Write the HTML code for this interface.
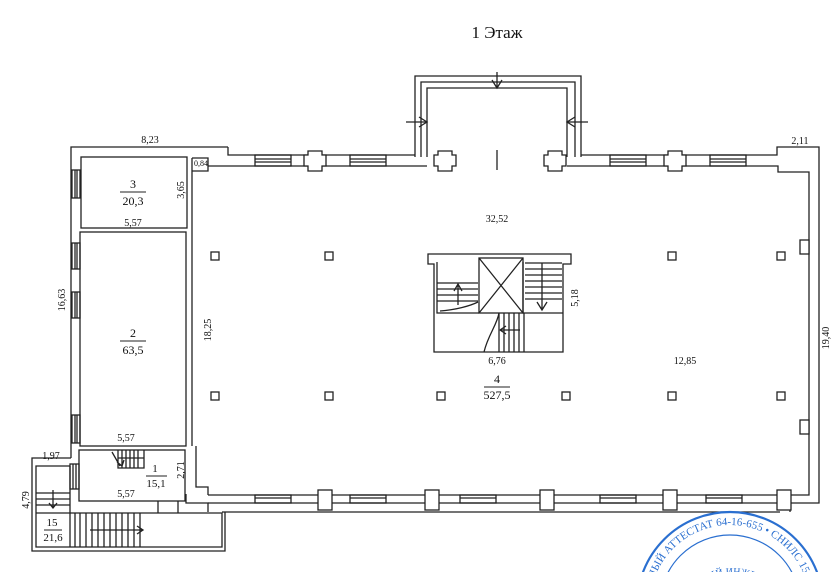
<!DOCTYPE html>
<html><head><meta charset="utf-8"><style>
html,body{margin:0;padding:0;background:#fff;width:834px;height:572px;overflow:hidden}
svg{display:block}
svg text{font-family:"Liberation Serif",serif;fill:#111}
</style></head><body>
<svg width="834" height="572" viewBox="0 0 834 572" xmlns="http://www.w3.org/2000/svg">
<defs><path id="arc" d="M650,605 A80,80 0 0 1 810,605"/><path id="arc2" d="M675,625 A58,58 0 0 1 790,625"/></defs>
<g fill="none" stroke="#222" stroke-width="1.3">
<path d="M228,147 V155 H415 M581,155 H777 V147 H819 V503 H790 V512 M228,147 H71 V458"/>
<path d="M192,158 V171 H208 V166 H427 M567,166 H778 V172 H809 V495 H790 V502 M192,158 H192 V446"/>
<path d="M208,166 V158 H192"/>
<path d="M208,495 H790 M208,503 H780"/>
<path d="M196,446 V487 H208 V495 M222,512 H780"/>
<path d="M186,494 V503 H208 V512"/>
<g>
<rect x="255" y="155" width="36" height="11"/><line x1="255" y1="159" x2="291" y2="159"/><line x1="255" y1="162" x2="291" y2="162"/>
<rect x="350" y="155" width="36" height="11"/><line x1="350" y1="159" x2="386" y2="159"/><line x1="350" y1="162" x2="386" y2="162"/>
<rect x="610" y="155" width="36" height="11"/><line x1="610" y1="159" x2="646" y2="159"/><line x1="610" y1="162" x2="646" y2="162"/>
<rect x="710" y="155" width="36" height="11"/><line x1="710" y1="159" x2="746" y2="159"/><line x1="710" y1="162" x2="746" y2="162"/>
<rect x="255" y="495" width="36" height="8"/><line x1="255" y1="498" x2="291" y2="498"/>
<rect x="350" y="495" width="36" height="8"/><line x1="350" y1="498" x2="386" y2="498"/>
<rect x="460" y="495" width="36" height="8"/><line x1="460" y1="498" x2="496" y2="498"/>
<rect x="600" y="495" width="36" height="8"/><line x1="600" y1="498" x2="636" y2="498"/>
<rect x="706" y="495" width="36" height="8"/><line x1="706" y1="498" x2="742" y2="498"/>
</g>
<g fill="#fff">
<path d="M308,151 h14 v4 h4 v11 h-4 v5 h-14 v-5 h-4 v-11 h4z"/><path d="M438,151 h14 v4 h4 v11 h-4 v5 h-14 v-5 h-4 v-11 h4z"/><path d="M548,151 h14 v4 h4 v11 h-4 v5 h-14 v-5 h-4 v-11 h4z"/><path d="M668,151 h14 v4 h4 v11 h-4 v5 h-14 v-5 h-4 v-11 h4z"/>
<rect x="318" y="490" width="14" height="20"/><rect x="425" y="490" width="14" height="20"/><rect x="540" y="490" width="14" height="20"/><rect x="663" y="490" width="14" height="20"/><rect x="777" y="490" width="14" height="20"/>
<rect x="800" y="240" width="9" height="14"/><rect x="800" y="420" width="9" height="14"/>
</g>
<path d="M415,157 V76 H581 V157 M421,157 V82 H575 V157 M427,157 V88 H567 V157"/>
<line x1="497" y1="150" x2="497" y2="170"/>
<path d="M497,72 V88 M492,80 L497,88 L502,80"/>
<path d="M406,122 H427 M419,117 L427,122 L419,127"/>
<path d="M588,122 H567 M575,117 L567,122 L575,127"/>
<rect x="81" y="157" width="106" height="71"/>
<rect x="80" y="232" width="106" height="214"/>
<rect x="79" y="450" width="106" height="51"/>
<g><rect x="72" y="170" width="8" height="28"/><line x1="75" y1="170" x2="75" y2="198"/><line x1="77" y1="170" x2="77" y2="198"/>
<rect x="72" y="243" width="8" height="26"/><line x1="75" y1="243" x2="75" y2="269"/><line x1="77" y1="243" x2="77" y2="269"/>
<rect x="72" y="292" width="8" height="26"/><line x1="75" y1="292" x2="75" y2="318"/><line x1="77" y1="292" x2="77" y2="318"/>
<rect x="72" y="415" width="8" height="28"/><line x1="75" y1="415" x2="75" y2="443"/><line x1="77" y1="415" x2="77" y2="443"/>
<rect x="70" y="464" width="9" height="25"/><line x1="73" y1="464" x2="73" y2="489"/><line x1="76" y1="464" x2="76" y2="489"/>
</g>
<path d="M71,458 H32 V551 H225 V512"/>
<path d="M36,513 V547 H222 V513 H36"/>
<path d="M36,513 V466 H70"/>
<path d="M36,493 H70 M36,499 H70 M36,505 H70 M70,466 V513"/>
<path d="M53,490 V508 M49,503 L53,508 L57,503"/>
<g><line x1="70" y1="513" x2="70" y2="547"/><line x1="75" y1="513" x2="75" y2="547"/><line x1="80" y1="513" x2="80" y2="547"/><line x1="86" y1="513" x2="86" y2="547"/><line x1="92" y1="513" x2="92" y2="547"/><line x1="98" y1="513" x2="98" y2="547"/><line x1="104" y1="513" x2="104" y2="547"/><line x1="110" y1="513" x2="110" y2="547"/><line x1="116" y1="513" x2="116" y2="547"/><line x1="122" y1="513" x2="122" y2="547"/><line x1="128" y1="513" x2="128" y2="547"/><line x1="134" y1="513" x2="134" y2="547"/><line x1="140" y1="513" x2="140" y2="547"/></g>
<path d="M90,530 H143 M137,526 L143,530 L137,534"/>
<path d="M158,501 V513 M178,501 V513"/>
<path d="M118,450 V468 H144 V450 M122,450 V468 M126,450 V468 M130,450 V468 M134,450 V468 M138,450 V468 M118,458 H144 M112,452 L120,466 M117,462 L122,466 L124,460"/>
<path d="M434,352 V264 H428 V254 H571 V264 H563 V352 Z"/>
<rect x="479" y="258" width="44" height="55"/>
<path d="M479,258 L523,313 M523,258 L479,313"/>
<path d="M437,262 V313 H479 M523,262 V313 H563"/>
<path d="M525,263 H562 M525,269 H562 M525,275 H562 M525,281 H562 M525,287 H562 M525,293 H562 M525,299 H562 M542,263 V310 M537,302 L542,310 L547,302"/>
<path d="M437,283 H478 M437,289 H478 M437,295 H478 M437,301 H478 M458,305 V284 M454,291 L458,284 L462,291"/>
<path d="M440,311 C455,310 470,306 478,302"/>
<path d="M499,313 V352 M504,313 V352 M509,313 V352 M514,313 V352 M519,313 V352 M524,313 V352 M500,330 H520 M500,330 L506,326 M500,330 L506,334"/>
<path d="M499,313 C497,325 488,335 484,352"/>
<g><rect x="211" y="252" width="8" height="8"/><rect x="325" y="252" width="8" height="8"/><rect x="668" y="252" width="8" height="8"/><rect x="777" y="252" width="8" height="8"/>
<rect x="211" y="392" width="8" height="8"/><rect x="325" y="392" width="8" height="8"/><rect x="437" y="392" width="8" height="8"/><rect x="562" y="392" width="8" height="8"/><rect x="668" y="392" width="8" height="8"/><rect x="777" y="392" width="8" height="8"/></g>
</g>
<text x="497" y="38" font-size="17" text-anchor="middle">1 Этаж</text>
<g font-size="10" text-anchor="middle">
<text x="150" y="143">8,23</text>
<text x="800" y="144">2,11</text>
<text x="201" y="166" font-size="8">0,84</text>
<text x="133" y="188" font-size="12">3</text><line x1="120" y1="192" x2="146" y2="192" stroke="#222"/><text x="133" y="205" font-size="12">20,3</text>
<text x="133" y="226">5,57</text>
<text x="133" y="337" font-size="12">2</text><line x1="120" y1="341" x2="146" y2="341" stroke="#222"/><text x="133" y="354" font-size="12">63,5</text>
<text x="126" y="441">5,57</text>
<text x="155" y="472" font-size="11">1</text><line x1="146" y1="476" x2="167" y2="476" stroke="#222"/><text x="156" y="487" font-size="11">15,1</text>
<text x="126" y="497">5,57</text>
<text x="51" y="459">1,97</text>
<text x="52" y="526" font-size="11">15</text><line x1="44" y1="530" x2="62" y2="530" stroke="#222"/><text x="53" y="541" font-size="11">21,6</text>
<text x="497" y="222">32,52</text>
<text x="497" y="364">6,76</text>
<text x="685" y="364">12,85</text>
<text x="497" y="383" font-size="12">4</text><line x1="484" y1="387" x2="510" y2="387" stroke="#222"/><text x="497" y="399" font-size="12">527,5</text>
<text transform="translate(65,300) rotate(-90)">16,63</text>
<text transform="translate(211,330) rotate(-90)">18,25</text>
<text transform="translate(184,190) rotate(-90)">3,65</text>
<text transform="translate(184,470) rotate(-90)">2,71</text>
<text transform="translate(29,500) rotate(-90)">4,79</text>
<text transform="translate(578,298) rotate(-90)">5,18</text>
<text transform="translate(829,338) rotate(-90)">19,40</text>
</g>
<g fill="none" stroke="#2a6fd0">
<circle cx="730" cy="605" r="93" stroke-width="2.2"/>
<circle cx="730" cy="605" r="70" stroke-width="1.2"/>
</g>
<text font-size="11" style="fill:#2a6fd0"><textPath href="#arc" startOffset="50%" text-anchor="middle">НЫЙ АТТЕСТАТ 64-16-655 • СНИЛС 158</textPath></text>
<text font-size="10" style="fill:#2a6fd0"><textPath href="#arc2" startOffset="55%" text-anchor="middle">ЫЙ ИНЖЕНЕР</textPath></text>
</svg>
</body></html>
